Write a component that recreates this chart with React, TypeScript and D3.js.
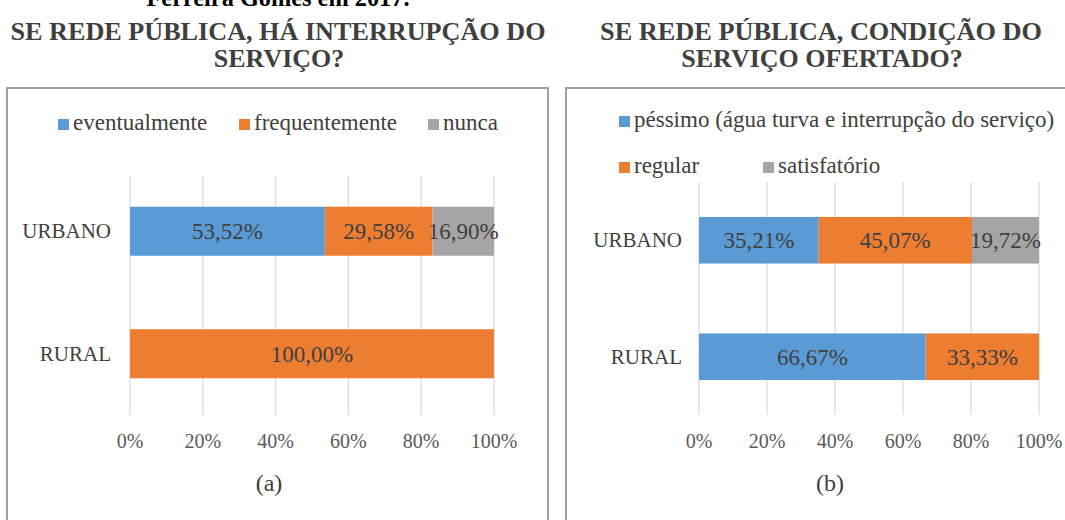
import React from 'react';
import * as d3 from 'd3';

const categories = ['URBANO', 'RURAL'];
const tickValues = [0, 20, 40, 60, 80, 100];

const seriesA = ['eventualmente', 'frequentemente', 'nunca'];
const aEventualmente = [53.52, 0];
const aFrequentemente = [29.58, 100.0];
const aNunca = [16.9, 0];

const seriesB = ['péssimo (água turva e interrupção do serviço)', 'regular', 'satisfatório'];
const bPessimo = [35.21, 66.67];
const bRegular = [45.07, 33.33];
const bSatisfatorio = [19.72, 0];

const colors = ['#5B9BD5', '#ED7D31', '#A5A5A5'];
const FONT = 'Liberation Serif, Tinos, DejaVu Serif, serif';

const fmt = (v: number) => v.toFixed(2).replace('.', ',') + '%';

type LegendItem = { x: number; y: number };

function Panel(props: {
  series: string[];
  values: number[][];
  x0: number;
  x1: number;
  top: number;
  gridTop: number;
  bottom: number;
  labelRight: number;
  legend: LegendItem[];
  caption: string;
  captionX: number;
}) {
  const { series, values, x0, x1, top, gridTop, bottom, labelRight, legend, caption, captionX } = props;
  const x = d3.scaleLinear().domain([0, 100]).range([x0, x1]);
  const y = d3.scaleBand<string>().domain(categories).range([top, bottom]).paddingInner(0.6).paddingOuter(0.3);
  const rows = categories.map((c, i) => {
    const r: any = { cat: c };
    series.forEach((s, k) => (r[s] = values[k][i]));
    return r;
  });
  const stacked = d3.stack<any>().keys(series)(rows);
  return (
    <g style={{ fontFamily: FONT }}>
      {tickValues.map((t) => (
        <line key={'g' + t} x1={x(t)} x2={x(t)} y1={gridTop} y2={bottom} stroke="#D9D9D9" strokeWidth={1.2} />
      ))}
      {stacked.map((layer, k) =>
        layer.map((d, i) => {
          const w = x(d[1]) - x(d[0]);
          if (w <= 0) return null;
          const yy = y(categories[i])!;
          return (
            <g key={k + '-' + i}>
              <rect x={x(d[0])} y={yy} width={w} height={y.bandwidth()} fill={colors[k]} />
              <text
                x={(x(d[0]) + x(d[1])) / 2}
                y={yy + y.bandwidth() / 2 + 8}
                textAnchor="middle"
                fontSize={23}
                fill="#404040"
              >
                {fmt(d[1] - d[0])}
              </text>
            </g>
          );
        })
      )}
      {categories.map((c) => (
        <text
          key={c}
          x={labelRight}
          y={y(c)! + y.bandwidth() / 2 + 7}
          textAnchor="end"
          fontSize={21}
          fill="#404040"
        >
          {c}
        </text>
      ))}
      {tickValues.map((t) => (
        <text key={'t' + t} x={x(t)} y={448} textAnchor="middle" fontSize={20} fill="#595959">
          {t + '%'}
        </text>
      ))}
      {series.map((s, k) => (
        <g key={'l' + k}>
          <rect x={legend[k].x} y={legend[k].y - 11} width={11} height={11} fill={colors[k]} />
          <text x={legend[k].x + 15} y={legend[k].y} fontSize={23} fill="#404040">
            {s}
          </text>
        </g>
      ))}
      <text x={captionX} y={491} textAnchor="middle" fontSize={24} fill="#404040">
        {caption}
      </text>
    </g>
  );
}

export default function App() {
  return (
    <svg width={1065} height={520} style={{ display: 'block', position: 'absolute', left: 0, top: 0, fontFamily: FONT }}>
      <rect x={0} y={0} width={1065} height={520} fill="#ffffff" />
      <text x={278} y={6} textAnchor="middle" fontSize={26} fontWeight="bold" fill="#000" textLength={263} lengthAdjust="spacingAndGlyphs">
        Ferreira Gomes em 2017.
      </text>
      <text x={278} y={40} textAnchor="middle" fontSize={26} fontWeight="bold" fill="#3F3F3F" textLength={535} lengthAdjust="spacingAndGlyphs">
        SE REDE PÚBLICA, HÁ INTERRUPÇÃO DO
      </text>
      <text x={279} y={67} textAnchor="middle" fontSize={26} fontWeight="bold" fill="#3F3F3F">
        SERVIÇO?
      </text>
      <text x={821} y={40} textAnchor="middle" fontSize={26} fontWeight="bold" fill="#3F3F3F" textLength={442} lengthAdjust="spacingAndGlyphs">
        SE REDE PÚBLICA, CONDIÇÃO DO
      </text>
      <text x={822} y={67} textAnchor="middle" fontSize={26} fontWeight="bold" fill="#3F3F3F">
        SERVIÇO OFERTADO?
      </text>

      <rect x={7} y={88} width={541} height={445} fill="none" stroke="#A0A0A0" strokeWidth={2} />
      <rect x={566} y={88} width={510} height={445} fill="none" stroke="#A0A0A0" strokeWidth={2} />

      <Panel
        series={seriesA}
        values={[aEventualmente, aFrequentemente, aNunca]}
        x0={130}
        x1={494}
        top={170}
        gridTop={176}
        bottom={415}
        labelRight={111}
        legend={[{ x: 58, y: 130 }, { x: 239, y: 130 }, { x: 428, y: 130 }]}
        caption="(a)"
        captionX={269}
      />
      <Panel
        series={seriesB}
        values={[bPessimo, bRegular, bSatisfatorio]}
        x0={699}
        x1={1039}
        top={182}
        gridTop={182}
        bottom={415}
        labelRight={682}
        legend={[{ x: 619, y: 127 }, { x: 619, y: 173 }, { x: 763, y: 173 }]}
        caption="(b)"
        captionX={830}
      />
    </svg>
  );
}
